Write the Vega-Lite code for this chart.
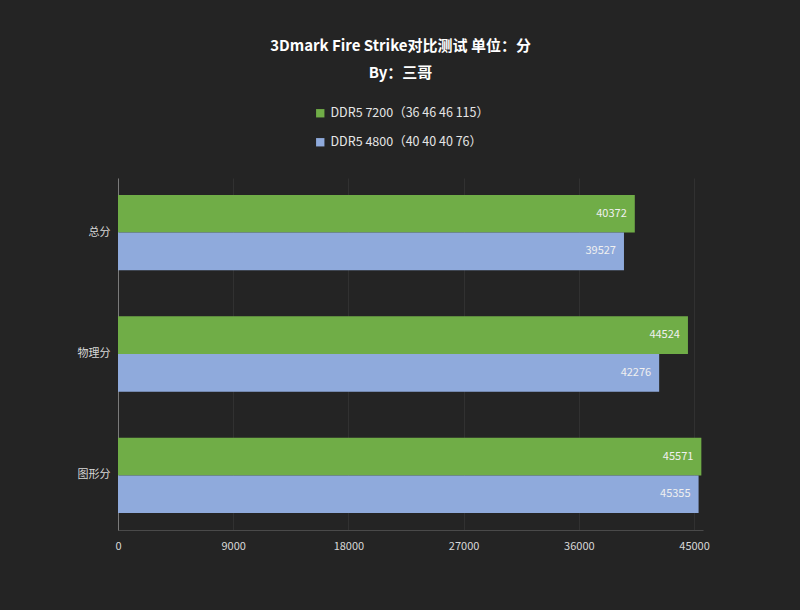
{
  "$schema": "https://vega.github.io/schema/vega-lite/v6.json",
  "width": 585,
  "height": 352,
  "autosize": {"type": "none"},
  "padding": {"left": 118, "top": 178, "right": 97, "bottom": 80},
  "background": "#242424",
  "config": {
    "view": {"stroke": null},
    "font": "Noto Sans CJK SC"
  },
  "title": {
    "text": "3Dmark Fire Strike对比测试 单位：分",
    "subtitle": "By：三哥",
    "anchor": "middle",
    "dx": -10,
    "offset": 26,
    "color": "#ffffff",
    "subtitleColor": "#ffffff",
    "fontSize": 15,
    "subtitleFontSize": 15,
    "fontWeight": "bold",
    "subtitleFontWeight": "bold",
    "subtitlePadding": 12,
    "font": "Noto Sans CJK SC",
    "subtitleFont": "Noto Sans CJK SC"
  },
  "data": {
    "values": [
      {"项目": "总分", "内存": "DDR5 7200（36 46 46 115）", "分数": 40372},
      {"项目": "总分", "内存": "DDR5 4800（40 40 40 76）", "分数": 39527},
      {"项目": "物理分", "内存": "DDR5 7200（36 46 46 115）", "分数": 44524},
      {"项目": "物理分", "内存": "DDR5 4800（40 40 40 76）", "分数": 42276},
      {"项目": "图形分", "内存": "DDR5 7200（36 46 46 115）", "分数": 45571},
      {"项目": "图形分", "内存": "DDR5 4800（40 40 40 76）", "分数": 45355}
    ]
  },
  "encoding": {
    "y": {
      "field": "项目",
      "type": "nominal",
      "sort": ["总分", "物理分", "图形分"],
      "scale": {"paddingInner": 0.38, "paddingOuter": 0.14},
      "axis": {
        "title": null,
        "labelColor": "#d8d8d8",
        "labelFontSize": 11,
        "labelPadding": 8,
        "ticks": false,
        "domainColor": "#7a7a7a",
        "domainWidth": 1
      }
    },
    "yOffset": {
      "field": "内存",
      "type": "nominal",
      "sort": ["DDR5 7200（36 46 46 115）", "DDR5 4800（40 40 40 76）"],
      "scale": {"paddingInner": 0}
    },
    "x": {
      "field": "分数",
      "type": "quantitative",
      "scale": {"domain": [0, 45700], "nice": false},
      "axis": {
        "title": null,
        "format": "d",
        "values": [0, 9000, 18000, 27000, 36000, 45000],
        "labelColor": "#d8d8d8",
        "labelFontSize": 11,
        "labelPadding": 10,
        "ticks": false,
        "domainColor": "#4a4a4a",
        "grid": true,
        "gridColor": "#3e3e3e",
        "gridOpacity": 0.5,
        "labelFlush": false
      }
    }
  },
  "layer": [
    {
      "mark": {"type": "bar", "cornerRadius": 0},
      "encoding": {
        "color": {
          "field": "内存",
          "type": "nominal",
          "scale": {
            "domain": ["DDR5 7200（36 46 46 115）", "DDR5 4800（40 40 40 76）"],
            "range": ["#70AD47", "#8FAADC"]
          },
          "legend": {
            "title": null,
            "orient": "none",
            "legendX": 196,
            "legendY": -71,
            "direction": "vertical",
            "symbolType": "square",
            "symbolSize": 70,
            "symbolStrokeWidth": 0,
            "labelColor": "#e6e6e6",
            "labelFontSize": 12.5,
            "labelFont": "Noto Sans CJK SC",
            "rowPadding": 16
          }
        }
      }
    },
    {
      "mark": {"type": "text", "align": "right", "dx": -8, "color": "#f0f0f0", "fontSize": 11},
      "encoding": {
        "text": {"field": "分数", "type": "quantitative", "format": "d"}
      }
    }
  ]
}
